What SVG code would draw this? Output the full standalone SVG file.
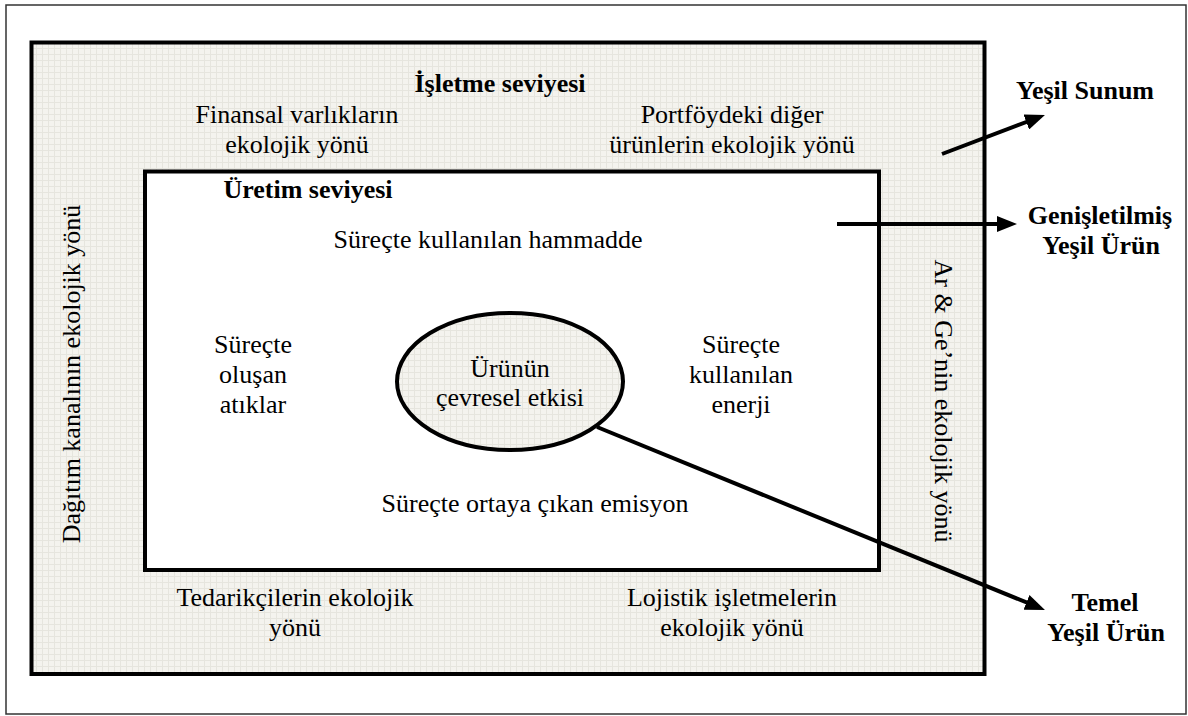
<svg xmlns="http://www.w3.org/2000/svg" width="1188" height="716" viewBox="0 0 1188 716">
<defs>
<pattern id="grid" width="6" height="6" patternUnits="userSpaceOnUse">
<rect width="6" height="6" fill="#f4f3ee"/>
<path d="M0,0.5 H6 M0.5,0 V6" stroke="#e6e5de" stroke-width="1"/>
</pattern>
<marker id="ah" viewBox="0 0 20 16" refX="10" refY="8" markerWidth="20" markerHeight="16" markerUnits="userSpaceOnUse" orient="auto">
<path d="M0,0 L20,8 L0,16 z" fill="#000"/>
</marker>
<style>
text{font-family:"Liberation Serif","Times New Roman",serif;font-size:26px;fill:#000;text-anchor:middle}
.b{font-weight:bold}
.conn{stroke:#000;stroke-width:4;fill:none;marker-end:url(#ah)}
</style>
</defs>
<rect x="6" y="5" width="1180" height="709" fill="#fff" stroke="#333" stroke-width="1.5"/>
<g id="outer-level">
<rect x="31.5" y="42.5" width="953" height="631.5" fill="url(#grid)" stroke="#000" stroke-width="4"/>
<text class="b" x="500" y="92">İşletme seviyesi</text>
<text x="297" y="123">Finansal varlıkların</text>
<text x="297" y="153">ekolojik yönü</text>
<text x="732" y="123">Portföydeki diğer</text>
<text x="732" y="153">ürünlerin ekolojik yönü</text>
<text x="295" y="606">Tedarikçilerin ekolojik</text>
<text x="295" y="636">yönü</text>
<text x="732" y="606">Lojistik işletmelerin</text>
<text x="732" y="636">ekolojik yönü</text>
<text transform="translate(80,374) rotate(-90)">Dağıtım kanalının ekolojik yönü</text>
<text transform="translate(935,401) rotate(90)">Ar &amp; Ge’nin ekolojik yönü</text>
</g>
<g id="inner-level">
<rect x="145" y="171.5" width="734" height="398.5" fill="#fff" stroke="#000" stroke-width="4"/>
<text class="b" x="308" y="198">Üretim seviyesi</text>
<text x="488" y="248">Süreçte kullanılan hammadde</text>
<text x="253" y="353">Süreçte</text>
<text x="253" y="383">oluşan</text>
<text x="253" y="413">atıklar</text>
<text x="741" y="353">Süreçte</text>
<text x="741" y="383">kullanılan</text>
<text x="741" y="413">enerji</text>
<text x="535" y="512">Süreçte ortaya çıkan emisyon</text>
</g>
<g id="core">
<ellipse cx="510" cy="381.5" rx="113" ry="68.5" fill="url(#grid)" stroke="#000" stroke-width="4"/>
<text x="510" y="377">Ürünün</text>
<text x="510" y="406">çevresel etkisi</text>
</g>
<g id="connectors">
<line class="conn" x1="942" y1="154" x2="1035.6" y2="118.5"/>
<line class="conn" x1="837" y1="224" x2="1007" y2="224"/>
<line class="conn" x1="597" y1="427" x2="1035.7" y2="606.2"/>
</g>
<g id="yesil-sunum">
<text class="b" x="1085" y="99">Yeşil Sunum</text>
</g>
<g id="genisletilmis">
<text class="b" x="1100" y="224">Genişletilmiş</text>
<text class="b" x="1101" y="254">Yeşil Ürün</text>
</g>
<g id="temel">
<text class="b" x="1105" y="611">Temel</text>
<text class="b" x="1106" y="641">Yeşil Ürün</text>
</g>
</svg>
